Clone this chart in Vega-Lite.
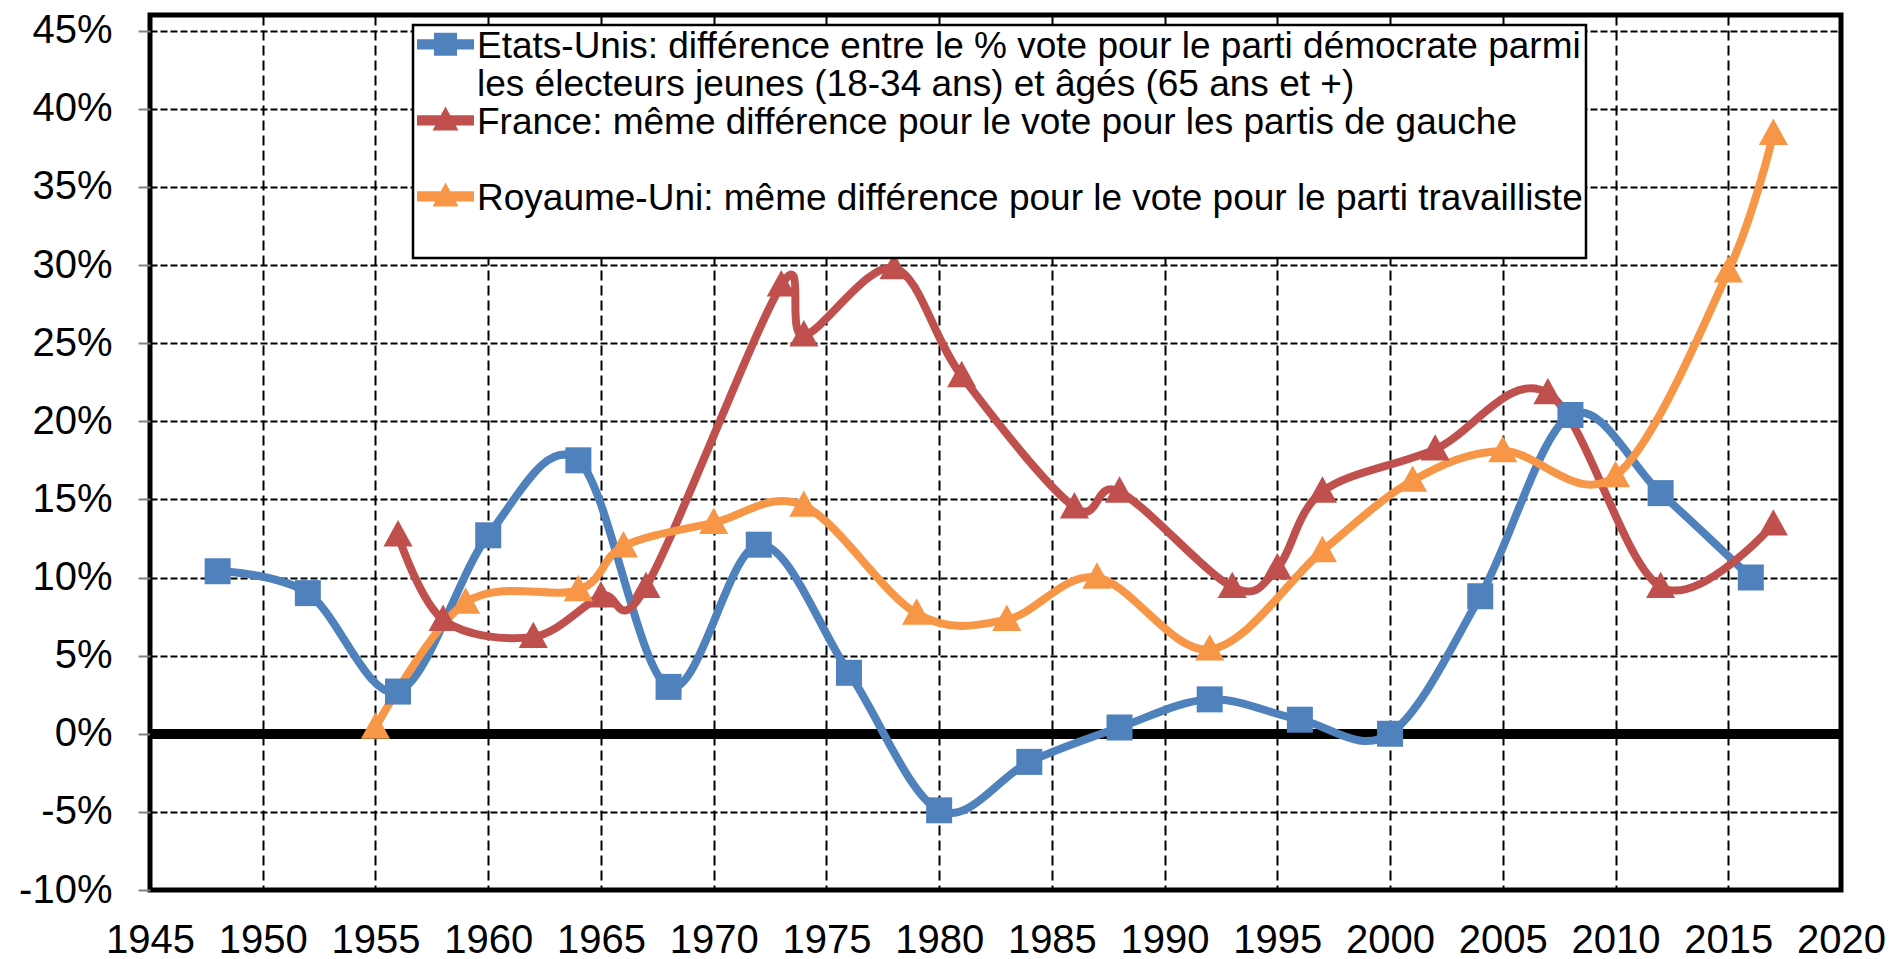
{
  "$schema": "https://vega.github.io/schema/vega-lite/v6.json",
  "width": 1691,
  "height": 875,
  "autosize": {"type": "none"},
  "padding": {"left": 150, "top": 15, "right": 53, "bottom": 69},
  "background": "white",
  "config": {
    "font": "Liberation Sans",
    "view": {"stroke": "black", "strokeWidth": 5},
    "axis": {"domain": false, "labelFont": "Liberation Sans", "labelFontSize": 40, "labelColor": "black", "gridColor": "black", "gridWidth": 2, "gridOpacity": 1}
  },
  "data": {
    "values": [
      {"s": "US", "year": 1948, "v": 0.104},
      {"s": "US", "year": 1952, "v": 0.090},
      {"s": "US", "year": 1956, "v": 0.027},
      {"s": "US", "year": 1960, "v": 0.127},
      {"s": "US", "year": 1964, "v": 0.175},
      {"s": "US", "year": 1968, "v": 0.030},
      {"s": "US", "year": 1972, "v": 0.121},
      {"s": "US", "year": 1976, "v": 0.039},
      {"s": "US", "year": 1980, "v": -0.049},
      {"s": "US", "year": 1984, "v": -0.018},
      {"s": "US", "year": 1988, "v": 0.004},
      {"s": "US", "year": 1992, "v": 0.022},
      {"s": "US", "year": 1996, "v": 0.009},
      {"s": "US", "year": 2000, "v": 0.000},
      {"s": "US", "year": 2004, "v": 0.088},
      {"s": "US", "year": 2008, "v": 0.204},
      {"s": "US", "year": 2012, "v": 0.154},
      {"s": "US", "year": 2016, "v": 0.100},
      {"s": "FR", "year": 1956, "v": 0.127},
      {"s": "FR", "year": 1958, "v": 0.073},
      {"s": "FR", "year": 1962, "v": 0.062},
      {"s": "FR", "year": 1965, "v": 0.088},
      {"s": "FR", "year": 1967, "v": 0.094},
      {"s": "FR", "year": 1973, "v": 0.287},
      {"s": "FR", "year": 1974, "v": 0.255},
      {"s": "FR", "year": 1978, "v": 0.298},
      {"s": "FR", "year": 1981, "v": 0.229},
      {"s": "FR", "year": 1986, "v": 0.145},
      {"s": "FR", "year": 1988, "v": 0.155},
      {"s": "FR", "year": 1993, "v": 0.094},
      {"s": "FR", "year": 1995, "v": 0.106},
      {"s": "FR", "year": 1997, "v": 0.155},
      {"s": "FR", "year": 2002, "v": 0.182},
      {"s": "FR", "year": 2007, "v": 0.218},
      {"s": "FR", "year": 2012, "v": 0.094},
      {"s": "FR", "year": 2017, "v": 0.134},
      {"s": "UK", "year": 1955, "v": 0.004},
      {"s": "UK", "year": 1959, "v": 0.084},
      {"s": "UK", "year": 1964, "v": 0.092},
      {"s": "UK", "year": 1966, "v": 0.120},
      {"s": "UK", "year": 1970, "v": 0.135},
      {"s": "UK", "year": 1974, "v": 0.146},
      {"s": "UK", "year": 1979, "v": 0.077},
      {"s": "UK", "year": 1983, "v": 0.073},
      {"s": "UK", "year": 1987, "v": 0.100},
      {"s": "UK", "year": 1992, "v": 0.054},
      {"s": "UK", "year": 1997, "v": 0.117},
      {"s": "UK", "year": 2001, "v": 0.162},
      {"s": "UK", "year": 2005, "v": 0.181},
      {"s": "UK", "year": 2010, "v": 0.165},
      {"s": "UK", "year": 2015, "v": 0.296},
      {"s": "UK", "year": 2017, "v": 0.384}
    ]
  },
  "layer": [
    {
      "mark": {"type": "rule", "color": "black", "strokeWidth": 9},
      "encoding": {
        "y": {"datum": 0, "type": "quantitative", "scale": {"domain": [-0.1, 0.46], "nice": false, "zero": false}}
      }
    },
    {
      "encoding": {
        "x": {"field": "year", "type": "quantitative", "scale": {"domain": [1945, 2020], "nice": false, "zero": false},
              "axis": {"values": [1945,1950,1955,1960,1965,1970,1975,1980,1985,1990,1995,2000,2005,2010,2015,2020], "format": "d", "title": null, "grid": true, "gridDash": [10, 5], "ticks": false, "labelPadding": 30, "labelFlush": false, "labelOverlap": false}},
        "y": {"field": "v", "type": "quantitative", "scale": {"domain": [-0.1, 0.46], "nice": false, "zero": false},
              "axis": {"values": [-0.1,-0.05,0,0.05,0.1,0.15,0.2,0.25,0.3,0.35,0.4,0.45], "labelExpr": "round(datum.value*100) + '%'", "title": null, "grid": true, "gridDash": [7, 3], "tickSize": 12, "tickColor": "#808080", "tickWidth": 2, "labelPadding": 26, "labelOverlap": false}},
        "color": {"field": "s", "type": "nominal", "scale": {"domain": ["US", "US2", "FR", "SP", "UK", "SP2"], "range": ["#4F81BD", "#FFFFFF", "#C0504D", "#FFFFFF", "#F79646", "#FFFFFF"]},
                  "legend": {
                    "orient": "none", "legendX": 263, "legendY": 10, "title": null,
                    "padding": 3, "fillColor": "white", "strokeColor": "black",
                    "symbolSize": 576, "symbolStrokeWidth": 0, "symbolOffset": 11, "labelOffset": 13,
                    "labelFont": "Liberation Sans", "labelFontSize": 37, "labelColor": "black", "labelBaseline": "middle", "labelLimit": 2000,
                    "rowPadding": 0, "gridAlign": "all",
                    "labelExpr": "datum.value == 'US' ? 'Etats-Unis: différence entre le % vote pour le parti démocrate parmi' : datum.value == 'US2' ? 'les électeurs jeunes (18-34 ans) et âgés (65 ans et +)' : datum.value == 'FR' ? 'France: même différence pour le vote pour les partis de gauche' : datum.value == 'UK' ? 'Royaume-Uni: même différence pour le vote pour le parti travailliste' : ''",
                    "encode": {
                      "legend": {"update": {"strokeWidth": {"value": 2.5}}},
                      "symbols": {"update": {"opacity": {"value": 1}, "fill": {"scale": "color", "field": "value"}, "shape": {"scale": "shape", "field": "value"}, "size": {"value": 576}, "strokeWidth": {"value": 0}}}
                    }
                  }}
      },
      "layer": [
        {
          "mark": {"type": "line", "interpolate": "cardinal", "strokeWidth": 8, "strokeCap": "round", "strokeJoin": "round"}
        },
        {
          "transform": [{"filter": "datum.s == 'US'"}],
          "mark": {"type": "point", "filled": true, "opacity": 1, "size": 676, "shape": "square"}
        },
        {
          "transform": [{"filter": "datum.s != 'US'"}],
          "mark": {"type": "point", "filled": true, "opacity": 1, "size": 700, "shape": "M0,-1.15L1.1,0.85L-1.1,0.85Z"}
        },
        {
          "transform": [{"filter": "datum.year > 3000"}],
          "mark": {"type": "point", "filled": true, "opacity": 1},
          "encoding": {
            "shape": {"field": "s", "type": "nominal",
                      "scale": {"domain": ["US", "US2", "FR", "SP", "UK", "SP2"], "range": [
                        "M-2.375,-0.6H2.375V0.24H-2.375Z M-0.96,-1.14H0.96V0.78H-0.96Z",
                        "M0,0Z",
                        "M-2.375,-0.6H2.375V0.24H-2.375Z M0,-1.33L1.08,0.67L-1.08,0.67Z",
                        "M0,0Z",
                        "M-2.375,-0.6H2.375V0.24H-2.375Z M0,-1.33L1.08,0.67L-1.08,0.67Z",
                        "M0,0Z"]}}
          }
        }
      ]
    }
  ]
}
